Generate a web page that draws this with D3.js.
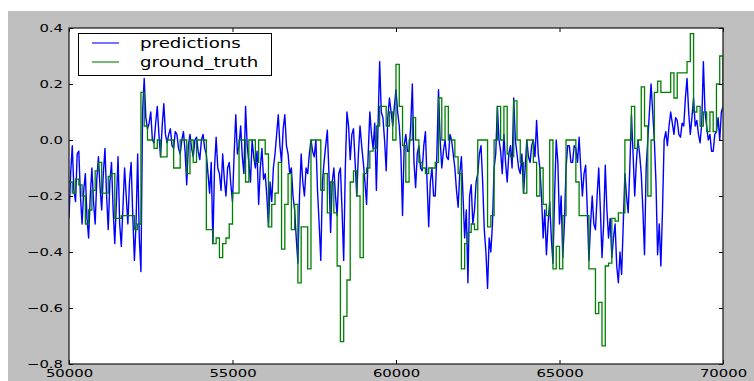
<!DOCTYPE html>
<html>
<head>
<meta charset="utf-8">
<script src="https://cdn.jsdelivr.net/npm/d3@7"></script>
<style>
  html, body { margin: 0; padding: 0; background: #ffffff; }
  svg { display: block; }
  text { font-family: "DejaVu Sans", sans-serif; fill: #000; }
</style>
</head>
<body>
<svg id="chart" width="754" height="381"></svg>
<script>
// ---------------- data ----------------
const predStart = 50000, predStep = 50;
const truthStart = 50000, truthStep = 100;
const seriesNames = ["predictions", "ground_truth"];
const seriesColors = ["#0000ff", "#008000"];

const predictions = [
  -0.28, -0.12, -0.02, -0.18, -0.22, -0.05, -0.04, -0.20, -0.30, -0.18, -0.12, -0.28, -0.35, -0.20, -0.10, -0.22, -0.30, -0.14, -0.06, -0.17,
  -0.25, -0.12, -0.03, -0.20, -0.32, -0.15, -0.08, -0.25, -0.37, -0.22, -0.06, -0.30, -0.38, -0.24, -0.10, -0.20, -0.30, -0.15, -0.08, -0.27,
  -0.43, -0.30, -0.05, -0.35, -0.47, 0.10, 0.22, 0.08, 0.04, 0.06, 0.10, 0.00, -0.01, 0.06, 0.12, 0.02, -0.06, 0.05, 0.13, 0.02,
  -0.01, 0.02, 0.04, -0.02, -0.03, 0.03, 0.02, -0.03, -0.05, 0.00, 0.03, -0.04, -0.16, -0.02, 0.02, -0.03, -0.06, 0.00, 0.01, -0.04,
  -0.07, 0.00, 0.02, -0.03, -0.05, -0.12, -0.19, -0.08, -0.37, -0.10, 0.01, -0.10, -0.12, -0.18, -0.05, -0.14, -0.20, -0.10, -0.08, -0.16,
  -0.22, -0.05, 0.09, -0.05, -0.02, 0.05, -0.06, -0.12, 0.12, -0.02, -0.08, -0.15, 0.00, -0.06, -0.10, -0.04, -0.23, -0.10, -0.03, -0.14,
  -0.12, -0.20, -0.31, -0.15, -0.22, -0.10, -0.05, 0.02, 0.09, -0.02, -0.08, 0.04, 0.09, -0.02, -0.05, -0.12, -0.10, -0.20, -0.25, -0.35,
  -0.44, -0.20, -0.05, -0.15, -0.20, -0.10, -0.12, -0.05, 0.00, -0.04, -0.06, 0.00, -0.18, -0.30, -0.43, -0.15, -0.08, -0.02, 0.035, -0.12,
  -0.33, -0.15, -0.10, -0.20, -0.27, -0.12, -0.10, -0.25, -0.43, -0.10, 0.10, 0.05, -0.07, 0.02, 0.04, -0.08, -0.20, -0.05, 0.05, -0.02,
  -0.08, -0.15, -0.23, -0.05, 0.10, 0.02, -0.03, 0.06, -0.18, 0.05, 0.28, 0.10, 0.08, 0.00, -0.11, 0.08, 0.15, 0.10, 0.05, 0.12,
  0.18, 0.10, 0.05, -0.05, -0.27, -0.02, 0.02, -0.04, -0.04, 0.05, 0.20, -0.08, -0.17, -0.05, -0.02, -0.10, -0.11, -0.02, 0.03, -0.15,
  -0.31, -0.15, -0.10, -0.20, -0.20, -0.05, 0.18, 0.00, -0.10, -0.04, 0.00, -0.06, -0.07, 0.02, 0.00, -0.05, -0.10, -0.18, -0.24, -0.12,
  -0.06, -0.20, -0.35, -0.25, -0.51, -0.20, -0.16, -0.30, -0.25, -0.15, -0.12, -0.05, -0.02, -0.15, -0.32, -0.40, -0.53, -0.35, -0.40, -0.30,
  -0.10, -0.05, 0.12, 0.00, -0.04, -0.12, 0.02, -0.08, -0.15, -0.05, -0.02, -0.10, 0.15, 0.00, -0.05, -0.10, -0.12, -0.05, -0.19, -0.10,
  0.00, -0.06, -0.08, -0.02, 0.00, -0.06, 0.07, -0.05, -0.10, -0.20, -0.35, -0.25, -0.41, -0.30, -0.22, -0.35, -0.44, -0.20, 0.00, -0.08,
  -0.30, -0.20, -0.42, -0.30, -0.10, -0.02, -0.02, -0.08, -0.08, -0.02, -0.03, -0.08, 0.01, -0.10, -0.20, -0.12, -0.09, -0.25, -0.43, -0.30,
  -0.20, -0.30, -0.32, -0.20, -0.10, -0.25, -0.42, -0.30, -0.09, -0.25, -0.35, -0.28, -0.42, -0.35, -0.30, -0.45, -0.51, -0.40, -0.48, -0.30,
  -0.12, -0.20, -0.26, -0.10, 0.09, -0.05, -0.20, -0.08, 0.00, -0.05, -0.12, -0.25, -0.41, -0.10, 0.00, 0.10, 0.20, 0.10, 0.00, -0.15,
  -0.41, -0.30, -0.45, -0.25, 0.00, 0.03, -0.02, 0.05, 0.10, 0.06, 0.02, 0.08, 0.07, 0.02, 0.01, 0.06, 0.05, 0.15, 0.22, 0.10,
  0.02, 0.08, 0.15, 0.05, 0.07, 0.02, -0.01, 0.06, 0.28, 0.10, 0.05, 0.00, 0.02, -0.04, -0.04, 0.02, 0.03, 0.08, 0.00, 0.10,
  0.12
];

const groundTruth = [
  -0.15, -0.19, -0.14, -0.16, -0.20, -0.30, -0.25, -0.18, -0.11, -0.08,
  -0.19, -0.19, -0.13, -0.12, -0.28, -0.28, -0.27, -0.27, -0.27, -0.27,
  -0.32, -0.30, 0.17, 0.05, 0.00, 0.00, -0.03, 0.00, -0.06, -0.06,
  0.00, 0.00, -0.10, -0.10, 0.00, 0.00, -0.12, 0.00, -0.08, 0.00,
  0.00, 0.00, -0.32, -0.32, -0.37, -0.35, -0.42, -0.37, -0.35, -0.30,
  -0.19, -0.19, 0.00, 0.00, -0.15, 0.00, 0.00, -0.08, 0.00, 0.00,
  -0.05, -0.31, -0.23, -0.19, -0.08, -0.39, -0.23, -0.12, -0.32, -0.23,
  -0.51, -0.31, -0.31, -0.46, 0.00, 0.00, 0.00, -0.18, -0.12, -0.26,
  -0.15, -0.26, -0.45, -0.72, -0.63, -0.50, -0.15, -0.11, -0.20, -0.42,
  -0.12, -0.10, -0.04, -0.03, 0.05, 0.12, 0.12, 0.05, 0.10, 0.00,
  0.27, 0.12, -0.02, -0.15, 0.00, 0.08, 0.00, -0.08, -0.10, -0.12,
  -0.10, -0.10, -0.08, 0.15, 0.00, 0.12, 0.00, 0.00, -0.06, -0.12,
  -0.46, -0.37, -0.33, -0.30, -0.32, 0.00, 0.00, 0.00, -0.31, -0.27,
  0.00, 0.12, 0.00, 0.12, -0.05, -0.06, 0.14, 0.00, -0.08, -0.19,
  0.00, 0.00, -0.08, -0.20, -0.10, -0.23, -0.27, 0.00, -0.46, -0.38,
  -0.46, -0.27, 0.00, 0.00, 0.00, -0.15, -0.27, -0.27, -0.27, -0.46,
  -0.46, -0.62, -0.58, -0.735, -0.45, -0.44, -0.28, -0.29, -0.26, -0.26,
  0.00, 0.00, 0.12, -0.03, 0.00, 0.19, 0.05, -0.20, 0.00, 0.17,
  0.21, 0.17, 0.17, 0.17, 0.24, 0.15, 0.24, 0.24, 0.24, 0.28,
  0.38, 0.10, 0.12, 0.05, 0.10, 0.03, 0.10, 0.03, 0.20, 0.30,
  0.10
];

const xTicks = [50000, 55000, 60000, 65000, 70000];
const yTicks = [-0.8, -0.6, -0.4, -0.2, 0.0, 0.2, 0.4];
const xDomain = [50000, 70000];
const yDomain = [-0.8, 0.4];

// ---------------- layout ----------------
const W = 754, H = 381;
const plot = { left: 69, top: 28, right: 723, bottom: 364 };
const svg = d3.select("#chart");

svg.append("rect").attr("x", 8).attr("y", 11).attr("width", W - 8).attr("height", H - 11)
  .attr("fill", "#bfbfbf");
svg.append("rect").attr("x", plot.left).attr("y", plot.top)
  .attr("width", plot.right - plot.left).attr("height", plot.bottom - plot.top)
  .attr("fill", "#ffffff");

const x = d3.scaleLinear().domain(xDomain).range([plot.left, plot.right]);
const y = d3.scaleLinear().domain(yDomain).range([plot.bottom, plot.top]);

const toPts = (arr, start, step) => arr.map((v, i) => [start + i * step, v]);

svg.append("defs").append("clipPath").attr("id", "clip")
  .append("rect").attr("x", plot.left).attr("y", plot.top)
  .attr("width", plot.right - plot.left).attr("height", plot.bottom - plot.top);

const g = svg.append("g").attr("clip-path", "url(#clip)");

const lineLin = d3.line().x(d => x(d[0])).y(d => y(d[1]));
const lineStep = d3.line().x(d => x(d[0])).y(d => y(d[1])).curve(d3.curveStepAfter);

g.append("path").attr("d", lineLin(toPts(predictions, predStart, predStep)))
  .attr("fill", "none").attr("stroke", seriesColors[0]).attr("stroke-width", 1.4)
  .attr("stroke-linejoin", "round");
g.append("path").attr("d", lineStep(toPts(groundTruth, truthStart, truthStep)))
  .attr("fill", "none").attr("stroke", seriesColors[1]).attr("stroke-width", 1.3);

// ---------------- axes ----------------
const tickLen = 4;
const fmtY = d3.format(".1f");
const sx = 1.35;

function styleAxis(sel) {
  sel.select(".domain").remove();
  sel.selectAll(".tick line").attr("stroke", "#000").attr("stroke-width", 1);
}

const axL = svg.append("g").attr("transform", `translate(${plot.left},0)`)
  .call(d3.axisLeft(y).tickValues(yTicks).tickSize(-tickLen).tickFormat(fmtY));
styleAxis(axL);
axL.selectAll(".tick text")
  .attr("x", null).attr("dy", null)
  .attr("font-size", 11).attr("text-anchor", "end")
  .attr("dominant-baseline", "central")
  .attr("transform", `translate(-6,0) scale(${sx},1)`);

const axR = svg.append("g").attr("transform", `translate(${plot.right},0)`)
  .call(d3.axisRight(y).tickValues(yTicks).tickSize(-tickLen).tickFormat(""));
styleAxis(axR);

const axB = svg.append("g").attr("transform", `translate(0,${plot.bottom})`)
  .call(d3.axisBottom(x).tickValues(xTicks).tickSize(-tickLen).tickFormat(d3.format("d")));
styleAxis(axB);
axB.selectAll(".tick text")
  .attr("y", null).attr("dy", null)
  .attr("font-size", 11).attr("text-anchor", "middle")
  .attr("dominant-baseline", "central")
  .attr("transform", `translate(0,9) scale(${sx},1)`);

const axT = svg.append("g").attr("transform", `translate(0,${plot.top})`)
  .call(d3.axisTop(x).tickValues(xTicks).tickSize(-tickLen).tickFormat(""));
styleAxis(axT);

// frame
svg.append("rect").attr("x", plot.left).attr("y", plot.top)
  .attr("width", plot.right - plot.left).attr("height", plot.bottom - plot.top)
  .attr("fill", "none").attr("stroke", "#222").attr("stroke-width", 1.3);

// ---------------- legend ----------------
const leg = svg.append("g");
leg.append("rect").attr("x", 78.5).attr("y", 33.5).attr("width", 193).attr("height", 42)
  .attr("fill", "#ffffff").attr("stroke", "#000").attr("stroke-width", 1);
seriesNames.forEach((name, i) => {
  const ly = 43 + i * 19;
  leg.append("line").attr("x1", 92).attr("x2", 119).attr("y1", ly).attr("y2", ly)
    .attr("stroke", seriesColors[i]).attr("stroke-width", 1.1);
  leg.append("text").attr("font-size", 13.5).attr("dominant-baseline", "central")
    .attr("transform", `translate(140,${ly}) scale(${sx},1)`).text(name);
});
</script>
</body>
</html>
